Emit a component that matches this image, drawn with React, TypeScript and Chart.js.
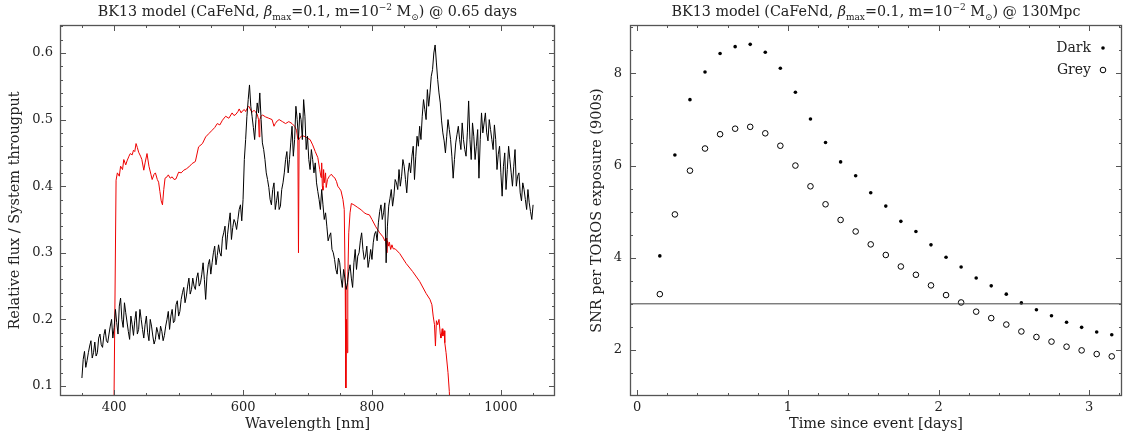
import React, { useEffect, useRef } from "react";
import { Chart, registerables } from "chart.js";
Chart.register(...registerables);

// ---------------- Left panel data ----------------
// Spectrum sampled on a 2 nm grid, stored as two interleaved 4 nm samplings.
const SPEC_START_NM = 350;
const SPEC_STEP_NM = 4;
const SPEC_FLUX = [
  0.112, 0.152, 0.138, 0.160, 0.142, 0.166, 0.150, 0.178, 0.158, 0.185,
  0.165, 0.190, 0.172, 0.215, 0.178, 0.232, 0.188, 0.210, 0.182, 0.205,
  0.176, 0.212, 0.185, 0.200, 0.172, 0.205, 0.168, 0.190, 0.163, 0.188,
  0.170, 0.182, 0.176, 0.200, 0.185, 0.215, 0.198, 0.228, 0.212, 0.240,
  0.225, 0.250, 0.238, 0.262, 0.245, 0.270, 0.255, 0.285, 0.230, 0.282,
  0.268, 0.300, 0.282, 0.312, 0.295, 0.330, 0.305, 0.345, 0.320, 0.350,
  0.335, 0.365, 0.348, 0.440, 0.505, 0.552, 0.505, 0.470, 0.525, 0.540,
  0.465, 0.440, 0.410, 0.380, 0.395, 0.365, 0.392, 0.370, 0.405, 0.440,
  0.420, 0.465, 0.445, 0.520, 0.470, 0.500, 0.530, 0.455, 0.440, 0.455,
  0.420, 0.405, 0.380, 0.395, 0.350, 0.340, 0.325, 0.305, 0.290, 0.268,
  0.285, 0.248, 0.262, 0.255, 0.282, 0.248, 0.305, 0.295, 0.318, 0.305,
  0.295, 0.278, 0.305, 0.315, 0.332, 0.345, 0.372, 0.360, 0.285, 0.370,
  0.395, 0.385, 0.405, 0.425, 0.415, 0.430, 0.390, 0.435, 0.445, 0.410,
  0.475, 0.490, 0.505, 0.515, 0.545, 0.540, 0.575, 0.612, 0.560, 0.525,
  0.480, 0.450, 0.500, 0.470, 0.412, 0.465, 0.490, 0.455, 0.470, 0.445,
  0.528, 0.440, 0.475, 0.460, 0.412, 0.510, 0.495, 0.480, 0.500, 0.470,
  0.492, 0.425, 0.460, 0.385, 0.450, 0.425, 0.440, 0.400, 0.455, 0.415,
  0.390, 0.405, 0.380, 0.395, 0.362, 0.372,
];
const SPEC_MID_START_NM = 352;
const SPEC_FLUX_MID = [
  0.140, 0.128, 0.150, 0.168, 0.150, 0.145, 0.172, 0.162, 0.176, 0.168,
  0.178, 0.200, 0.188, 0.195, 0.220, 0.200, 0.225, 0.196, 0.170, 0.192,
  0.198, 0.178, 0.215, 0.185, 0.192, 0.180, 0.200, 0.175, 0.170, 0.180,
  0.190, 0.168, 0.190, 0.212, 0.205, 0.195, 0.222, 0.205, 0.230, 0.248,
  0.235, 0.262, 0.245, 0.250, 0.262, 0.250, 0.268, 0.260, 0.265, 0.290,
  0.285, 0.310, 0.296, 0.300, 0.322, 0.340, 0.328, 0.360, 0.338, 0.345,
  0.350, 0.372, 0.380, 0.470, 0.530, 0.520, 0.488, 0.500, 0.510, 0.500,
  0.455, 0.420, 0.398, 0.372, 0.405, 0.378, 0.365, 0.395, 0.420, 0.452,
  0.440, 0.490, 0.470, 0.500, 0.510, 0.470, 0.505, 0.475, 0.425, 0.440,
  0.435, 0.392, 0.365, 0.372, 0.360, 0.318, 0.330, 0.300, 0.275, 0.292,
  0.262, 0.275, 0.245, 0.272, 0.262, 0.285, 0.275, 0.300, 0.330, 0.290,
  0.310, 0.290, 0.290, 0.328, 0.318, 0.362, 0.350, 0.375, 0.340, 0.382,
  0.370, 0.410, 0.395, 0.400, 0.440, 0.410, 0.420, 0.420, 0.460, 0.445,
  0.460, 0.470, 0.530, 0.500, 0.520, 0.565, 0.600, 0.585, 0.540, 0.498,
  0.468, 0.475, 0.485, 0.445, 0.440, 0.478, 0.470, 0.495, 0.455, 0.480,
  0.470, 0.495, 0.440, 0.485, 0.470, 0.480, 0.510, 0.468, 0.485, 0.455,
  0.470, 0.448, 0.420, 0.430, 0.395, 0.460, 0.420, 0.430, 0.400, 0.420,
  0.378, 0.395, 0.365, 0.375, 0.350,
];

const THRU_WL = [
  399, 401, 403, 405, 408, 410, 413, 415, 418, 420, 423, 425, 428, 430, 432, 434, 436, 438, 441, 443,
  446, 448, 451, 454, 457, 459, 462, 464, 467, 469, 471, 473, 475, 477, 479, 482, 484, 487, 490, 493,
  496, 500, 504, 508, 512, 516, 521, 526, 531, 537, 542, 547, 552, 556, 560, 564, 568, 573, 578, 583,
  586, 589, 592, 594, 597, 599, 602, 604, 607, 609, 612, 614, 617, 619, 622, 624, 625, 626, 628, 630,
  635, 640, 645, 648, 650, 653, 656, 661, 666, 671, 676, 680, 683, 685, 686, 687, 689, 692, 697, 700,
  704, 708, 712, 716, 719, 721, 722, 723, 724, 725, 726, 728, 729, 731, 734, 737, 740, 742, 745, 747,
  750, 752, 755, 757, 758.5, 759.5, 760.5, 761.5, 762.5, 764, 766, 768, 772, 778, 784, 788, 792, 796, 800, 806,
  812, 817, 820, 822, 823, 824, 826, 827, 829, 831, 833, 836, 843, 853, 863, 874, 884, 890, 893, 895,
  897, 898.5, 900, 902, 904, 906, 907, 909, 910, 912, 913, 915, 918, 920, 922,
];
const THRU_VAL = [
  0.000, 0.200, 0.409, 0.420, 0.415, 0.430, 0.425, 0.440, 0.432, 0.438, 0.445, 0.449, 0.447, 0.454, 0.452, 0.464, 0.458, 0.451, 0.445, 0.440,
  0.424, 0.435, 0.449, 0.430, 0.418, 0.410, 0.418, 0.420, 0.410, 0.406, 0.392, 0.378, 0.372, 0.395, 0.412, 0.414, 0.417, 0.412, 0.414, 0.410,
  0.411, 0.421, 0.420, 0.424, 0.426, 0.429, 0.434, 0.437, 0.459, 0.464, 0.474, 0.479, 0.484, 0.488, 0.494, 0.492, 0.499, 0.505, 0.502, 0.510,
  0.506, 0.508, 0.512, 0.516, 0.510, 0.513, 0.515, 0.512, 0.518, 0.520, 0.514, 0.511, 0.514, 0.512, 0.508, 0.500, 0.474, 0.500, 0.505, 0.507,
  0.504, 0.502, 0.500, 0.490, 0.494, 0.498, 0.500, 0.497, 0.494, 0.497, 0.494, 0.490, 0.484, 0.470, 0.300, 0.470, 0.474, 0.476, 0.474, 0.472,
  0.470, 0.462, 0.452, 0.443, 0.425, 0.413, 0.435, 0.400, 0.394, 0.425, 0.405, 0.420, 0.398, 0.410, 0.415, 0.418, 0.414, 0.413, 0.407, 0.400,
  0.396, 0.393, 0.380, 0.365, 0.250, 0.097, 0.200, 0.150, 0.260, 0.330, 0.360, 0.374, 0.372, 0.368, 0.364, 0.360, 0.358, 0.357, 0.350, 0.339,
  0.330, 0.324, 0.318, 0.322, 0.300, 0.318, 0.310, 0.316, 0.305, 0.312, 0.306, 0.306, 0.299, 0.284, 0.272, 0.257, 0.239, 0.230, 0.222, 0.205,
  0.192, 0.160, 0.198, 0.192, 0.200, 0.178, 0.172, 0.186, 0.175, 0.183, 0.165, 0.150, 0.120, 0.092, 0.050,
];

const LEFT_X_TICKS = [400, 600, 800, 1000];
const LEFT_Y_TICKS = [0.1, 0.2, 0.3, 0.4, 0.5, 0.6];

// ---------------- Right panel data ----------------
const TIME_DAYS = [
  0.15, 0.25, 0.35, 0.45, 0.55, 0.65, 0.75, 0.85, 0.95, 1.05, 1.15, 1.25, 1.35, 1.45, 1.55, 1.65,
  1.75, 1.85, 1.95, 2.05, 2.15, 2.25, 2.35, 2.45, 2.55, 2.65, 2.75, 2.85, 2.95, 3.05, 3.15,
];
const SNR_DARK = [
  4.04, 6.23, 7.43, 8.03, 8.43, 8.58, 8.63, 8.46, 8.11, 7.59, 7.01, 6.5, 6.08, 5.78, 5.41, 5.12,
  4.79, 4.57, 4.28, 4.01, 3.8, 3.56, 3.39, 3.21, 3.02, 2.87, 2.74, 2.6, 2.49, 2.39, 2.33,
];
const SNR_GREY = [
  3.21, 4.94, 5.89, 6.37, 6.68, 6.8, 6.84, 6.7, 6.43, 6.0, 5.55, 5.16, 4.82, 4.57, 4.29, 4.06,
  3.81, 3.63, 3.4, 3.19, 3.03, 2.83, 2.69, 2.55, 2.4, 2.28, 2.18, 2.07, 1.99, 1.91, 1.86,
];
const SNR_THRESHOLD = 3;
const RIGHT_X_TICKS = [0, 1, 2, 3];
const RIGHT_Y_TICKS = [2, 4, 6, 8];
const LEGEND_LABELS = ["Dark", "Grey"];

// ---------------- Styling ----------------
const FONT = "DejaVu Serif";
const TEXT = "#222";
const FRAME = "#555";
const TITLE_SIZE = 14.3;
const AXIS_TITLE_SIZE = 14.5;

type Seg = { t: string; mode?: "sub" | "sup"; italic?: boolean };

const LEFT_TITLE: Seg[] = [
  { t: "BK13 model (CaFeNd, " },
  { t: "β", italic: true },
  { t: "max", mode: "sub" },
  { t: "=0.1, m=10" },
  { t: "−2", mode: "sup" },
  { t: " M" },
  { t: "⊙", mode: "sub" },
  { t: ") @ 0.65 days" },
];
const RIGHT_TITLE: Seg[] = [
  { t: "BK13 model (CaFeNd, " },
  { t: "β", italic: true },
  { t: "max", mode: "sub" },
  { t: "=0.1, m=10" },
  { t: "−2", mode: "sup" },
  { t: " M" },
  { t: "⊙", mode: "sub" },
  { t: ") @ 130Mpc" },
];

function steps(from: number, to: number, step: number): number[] {
  const out: number[] = [];
  const n = Math.round((to - from) / step);
  for (let i = 0; i <= n; i++) out.push(+(from + i * step).toFixed(6));
  return out;
}

const richTitlePlugin = {
  id: "richTitle",
  afterDraw(chart: any, _args: any, opts: any) {
    if (!opts || !opts.segments) return;
    const { ctx, chartArea } = chart;
    const size = opts.size || 13;
    const fontFor = (s: Seg) =>
      `${s.italic ? "italic " : ""}${s.mode ? Math.round(size * 0.66) : size}px "${FONT}"`;
    ctx.save();
    let total = 0;
    for (const s of opts.segments) {
      ctx.font = fontFor(s);
      total += ctx.measureText(s.t).width;
    }
    let x = (chartArea.left + chartArea.right) / 2 - total / 2;
    const y = opts.baseline;
    ctx.fillStyle = TEXT;
    ctx.textAlign = "left";
    ctx.textBaseline = "alphabetic";
    for (const s of opts.segments as Seg[]) {
      ctx.font = fontFor(s);
      const dy = s.mode === "sub" ? size * 0.3 : s.mode === "sup" ? -size * 0.38 : 0;
      ctx.fillText(s.t, x, y + dy);
      x += ctx.measureText(s.t).width;
    }
    ctx.restore();
  },
};

const framePlugin = {
  id: "frame",
  afterDatasetsDraw(chart: any, _args: any, opts: any) {
    const { ctx, chartArea: a, scales } = chart;
    const xs = scales.x;
    const ys = scales.y;
    ctx.save();
    ctx.strokeStyle = FRAME;
    ctx.lineWidth = 1.3;
    ctx.strokeRect(a.left + 0.5, a.top + 0.5, a.right - a.left - 1, a.bottom - a.top - 1);
    const tick = (vals: number[], len: number, horiz: boolean) => {
      for (const v of vals) {
        if (horiz) {
          const p = Math.round(xs.getPixelForValue(v)) + 0.5;
          if (p < a.left || p > a.right) continue;
          ctx.beginPath();
          ctx.moveTo(p, a.bottom);
          ctx.lineTo(p, a.bottom - len);
          ctx.moveTo(p, a.top);
          ctx.lineTo(p, a.top + len);
          ctx.stroke();
        } else {
          const p = Math.round(ys.getPixelForValue(v)) + 0.5;
          if (p < a.top || p > a.bottom) continue;
          ctx.beginPath();
          ctx.moveTo(a.left, p);
          ctx.lineTo(a.left + len, p);
          ctx.moveTo(a.right, p);
          ctx.lineTo(a.right - len, p);
          ctx.stroke();
        }
      }
    };
    ctx.lineWidth = 1;
    tick(opts.xMinor, 3, true);
    tick(opts.xMajor, 6, true);
    tick(opts.yMinor, 3, false);
    tick(opts.yMajor, 6, false);
    ctx.restore();
  },
};

const legendPlugin = {
  id: "snrLegend",
  afterDraw(chart: any, _args: any, opts: any) {
    if (!opts || !opts.labels) return;
    const { ctx, chartArea: a } = chart;
    ctx.save();
    ctx.font = `14px "${FONT}"`;
    ctx.fillStyle = TEXT;
    ctx.textAlign = "right";
    ctx.textBaseline = "middle";
    const textRight = a.right - 31;
    const markX = a.right - 19;
    const rows = [a.top + 23, a.top + 45];
    opts.labels.forEach((lab: string, i: number) => {
      ctx.fillText(lab, textRight, rows[i]);
      ctx.beginPath();
      if (i === 0) {
        ctx.fillStyle = "#000";
        ctx.arc(markX, rows[i], 1.8, 0, Math.PI * 2);
        ctx.fill();
        ctx.fillStyle = TEXT;
      } else {
        ctx.strokeStyle = "#000";
        ctx.lineWidth = 1;
        ctx.arc(markX, rows[i], 2.8, 0, Math.PI * 2);
        ctx.stroke();
      }
    });
    ctx.restore();
  },
};

function baseScale(min: number, max: number, ticks: number[], fmt: (v: number) => string, isY: boolean, title: string, size: number, titlePad: any, tickPad: number) {
  return {
    type: "linear",
    min,
    max,
    grid: { display: false, drawTicks: false },
    border: { display: false },
    afterBuildTicks: (scale: any) => {
      scale.ticks = ticks.map((v) => ({ value: v }));
    },
    afterFit: (scale: any) => {
      if (isY) scale.width = size;
      else scale.height = size;
    },
    ticks: {
      autoSkip: false,
      maxRotation: 0,
      padding: tickPad,
      color: TEXT,
      font: { family: FONT, size: 13 },
      callback: (v: any) => fmt(Number(v)),
    },
    title: {
      display: true,
      text: title,
      color: TEXT,
      font: { family: FONT, size: AXIS_TITLE_SIZE },
      padding: titlePad,
    },
  };
}

function SpectrumPanel() {
  const ref = useRef<HTMLCanvasElement | null>(null);
  useEffect(() => {
    if (!ref.current) return;
    const spec: { x: number; y: number }[] = [];
    SPEC_FLUX.forEach((f, i) => {
      spec.push({ x: SPEC_START_NM + i * SPEC_STEP_NM, y: f });
      if (i < SPEC_FLUX_MID.length) spec.push({ x: SPEC_MID_START_NM + i * SPEC_STEP_NM, y: SPEC_FLUX_MID[i] });
    });
    const thru = THRU_WL.map((w, i) => ({ x: w, y: THRU_VAL[i] }));
    const chart = new Chart(ref.current, {
      type: "line",
      data: {
        datasets: [
          { data: spec, borderColor: "#000", borderWidth: 1, pointRadius: 0, tension: 0 },
          { data: thru, borderColor: "#ee0000", borderWidth: 1, pointRadius: 0, tension: 0 },
        ],
      },
      options: {
        responsive: false,
        animation: false,
        devicePixelRatio: 1,
        events: [],
        layout: { padding: { left: 0, top: 25, right: 30, bottom: 0 } },
        parsing: false,
        normalized: true,
        scales: {
          x: baseScale(316, 1084, LEFT_X_TICKS, (v) => String(v), false, "Wavelength [nm]", 38, { top: 0, bottom: 1.5 }, 4) as any,
          y: baseScale(0.085, 0.642, LEFT_Y_TICKS, (v) => v.toFixed(1), true, "Relative flux / System througput", 60, { top: 7, bottom: 0 }, 7) as any,
        },
        plugins: {
          legend: { display: false },
          tooltip: { enabled: false },
          richTitle: { segments: LEFT_TITLE, size: TITLE_SIZE, baseline: 15.5 },
          frame: {
            xMajor: LEFT_X_TICKS,
            xMinor: steps(350, 1050, 50),
            yMajor: LEFT_Y_TICKS,
            yMinor: steps(0.1, 0.64, 0.02),
          },
        } as any,
      },
      plugins: [richTitlePlugin, framePlugin],
    } as any);
    return () => chart.destroy();
  }, []);
  return <canvas ref={ref} width={585} height={434} style={{ position: "absolute", left: 0, top: 0, width: 585, height: 434 }} />;
}

function SnrPanel() {
  const ref = useRef<HTMLCanvasElement | null>(null);
  useEffect(() => {
    if (!ref.current) return;
    const dark = TIME_DAYS.map((t, i) => ({ x: t, y: SNR_DARK[i] }));
    const grey = TIME_DAYS.map((t, i) => ({ x: t, y: SNR_GREY[i] }));
    const xMin = -0.048;
    const xMax = 3.218;
    const limit = [
      { x: xMin, y: SNR_THRESHOLD },
      { x: xMax, y: SNR_THRESHOLD },
    ];
    const chart = new Chart(ref.current, {
      type: "line",
      data: {
        datasets: [
          { data: limit, borderColor: "#444", borderWidth: 1, pointRadius: 0, showLine: true },
          { data: dark, showLine: false, pointRadius: 1.8, pointBorderWidth: 0, pointBackgroundColor: "#000", borderColor: "#000" },
          { data: grey, showLine: false, pointRadius: 2.8, pointBorderWidth: 1, pointBackgroundColor: "rgba(0,0,0,0)", pointBorderColor: "#000", borderColor: "#000" },
        ],
      },
      options: {
        responsive: false,
        animation: false,
        devicePixelRatio: 1,
        events: [],
        layout: { padding: { left: 0, top: 25, right: 3, bottom: 0 } },
        parsing: false,
        scales: {
          x: baseScale(xMin, xMax, RIGHT_X_TICKS, (v) => String(v), false, "Time since event [days]", 38, { top: 0, bottom: 1.5 }, 4) as any,
          y: baseScale(1.0, 9.05, RIGHT_Y_TICKS, (v) => String(v), true, "SNR per TOROS exposure (900s)", 45, { top: 4, bottom: 0 }, 8) as any,
        },
        plugins: {
          legend: { display: false },
          tooltip: { enabled: false },
          richTitle: { segments: RIGHT_TITLE, size: TITLE_SIZE, baseline: 15.5 },
          frame: {
            xMajor: RIGHT_X_TICKS,
            xMinor: steps(0, 3.2, 0.2),
            yMajor: RIGHT_Y_TICKS,
            yMinor: steps(1, 9, 0.5),
          },
          snrLegend: { labels: LEGEND_LABELS },
        } as any,
      },
      plugins: [richTitlePlugin, framePlugin, legendPlugin],
    } as any);
    return () => chart.destroy();
  }, []);
  return <canvas ref={ref} width={542} height={434} style={{ position: "absolute", left: 585, top: 0, width: 542, height: 434 }} />;
}

export default function App() {
  return (
    <div style={{ position: "fixed", left: 0, top: 0, width: 1127, height: 434, background: "#fff", overflow: "hidden" }}>
      <SpectrumPanel />
      <SnrPanel />
    </div>
  );
}
